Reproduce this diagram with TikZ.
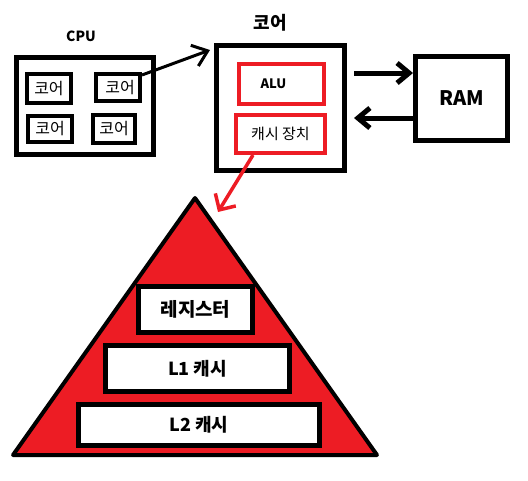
\documentclass[tikz,border=0pt]{standalone}
\usepackage{fontspec}
\setmainfont{Noto Sans CJK KR}
\usetikzlibrary{arrows.meta}
\definecolor{paintred}{RGB}{237,28,36}

\begin{document}
\begin{tikzpicture}[x=1pt,y=-1pt,
    box/.style={draw,line width=5pt,fill=white,inner sep=0pt},
    corebox/.style={draw,line width=4pt,inner sep=0pt,minimum width=44pt,font=\fontsize{16}{18}\selectfont},
    redbox/.style={draw=paintred,line width=4pt,inner sep=0pt},
    conn/.style={line width=5pt,-{Straight Barb[length=12pt,width=20pt]}}]
  \useasboundingbox (0,0) rectangle (528,480);
  % CPU with four cores
  \node[font=\bfseries\fontsize{14}{16}\selectfont] (cpulabel) at (81,36) {CPU};
  \node[box,minimum width=137pt,minimum height=97pt] (cpu) at (85,106) {};
  \node[corebox,minimum height=29pt] (c1) at (49,88.5) {코어};
  \node[corebox,minimum height=27pt] (c2) at (118,87.5) {\hspace*{4pt}코어};
  \node[corebox,minimum height=26pt] (c3) at (50,129) {코어};
  \node[corebox,minimum width=42pt,minimum height=28pt] (c4) at (114,129) {코어};
  % one core
  \node[font=\bfseries\fontsize{18}{20}\selectfont] (corelabel) at (270,23) {코어};
  \node[box,minimum width=128pt,minimum height=125pt] (core) at (280.5,108) {};
  \node[redbox,minimum width=85pt,minimum height=40pt,font=\bfseries\fontsize{13}{15}\selectfont] (alu) at (281.5,84) {ALU\hspace*{16pt}};
  \node[redbox,minimum width=89pt,minimum height=38pt,font=\fontsize{15}{17}\selectfont] (cache) at (280.5,134) {캐시 장치};
  % RAM
  \node[box,minimum width=92pt,minimum height=84pt,font=\bfseries\fontsize{20}{22}\selectfont] (ram) at (461.5,98.5) {RAM};
  \draw[conn] ([xshift=7pt]core.east |- 0,73) -- (ram.west |- 0,73);
  \draw[conn] (ram.west |- 0,118) -- ([xshift=7pt]core.east |- 0,118);
  \draw[line width=3pt,-{Straight Barb[length=14pt,width=22pt]}] ([yshift=-3pt]c2.north east) -- ([xshift=-4pt,yshift=-7pt]core.north west);
  % memory pyramid
  \coordinate (apex) at (195,198);
  \coordinate (left) at (13,455);
  \coordinate (right) at (377,455);
  \draw[line width=4pt,fill=paintred,line join=round] (apex) -- (left) -- (right) -- cycle;
  \draw[paintred,line width=3.5pt,-{Straight Barb[length=12pt,width=24pt]}] ([xshift=19pt]cache.south west) -- ([xshift=23pt,yshift=-14pt]apex);
  \node[box,minimum width=114pt,minimum height=46pt,font=\bfseries\fontsize{19}{21}\selectfont] (reg) at (195.5,309.5) {레지스터};
  \node[box,minimum width=184pt,minimum height=46pt,font=\bfseries\fontsize{18}{20}\selectfont] (l1) at (197.5,368.5) {L1 캐시};
  \node[box,minimum width=241pt,minimum height=41pt,font=\bfseries\fontsize{18}{20}\selectfont] (l2) at (199,425) {L2 캐시};
\end{tikzpicture}
\end{document}
